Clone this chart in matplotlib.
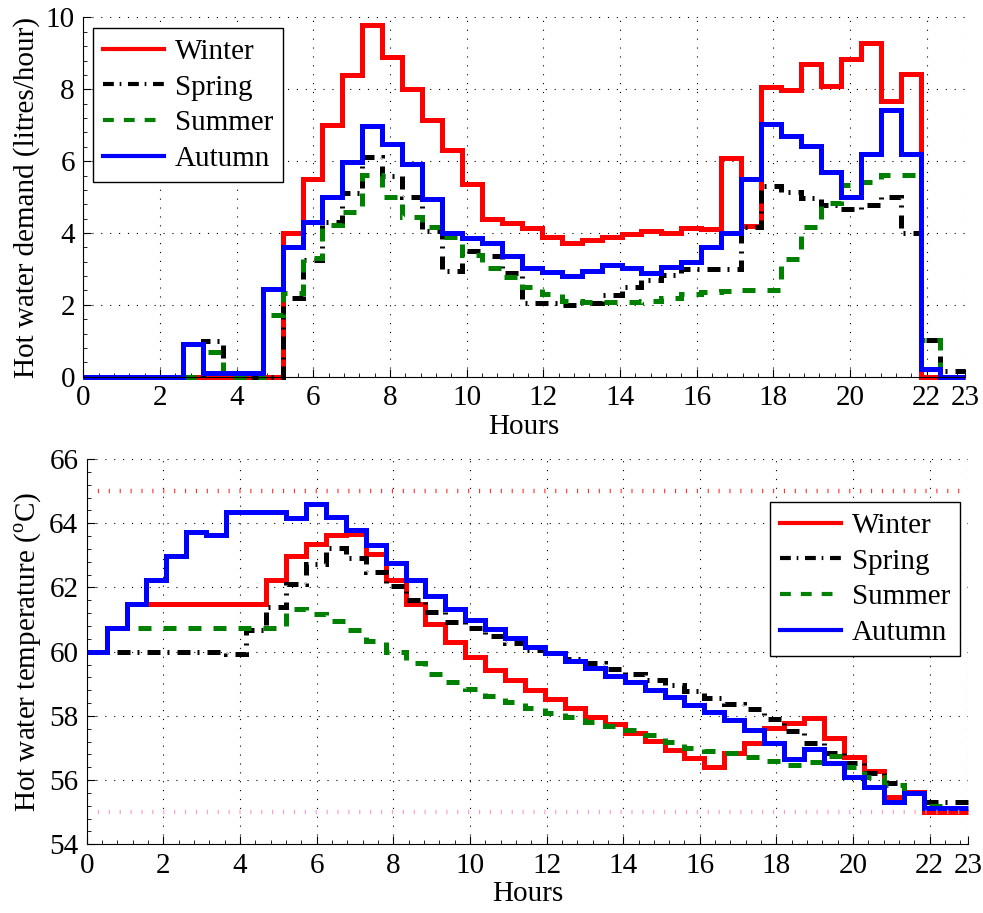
"""Hot water demand and tank temperature over a day, four seasons."""

import matplotlib
matplotlib.use("Agg")
import matplotlib.pyplot as plt
import numpy as np
from matplotlib.ticker import AutoMinorLocator

plt.rcParams["font.family"] = ["Liberation Serif", "DejaVu Serif"]
plt.rcParams["mathtext.fontset"] = "custom"
plt.rcParams["mathtext.rm"] = "Liberation Serif"

# time slots: 45 steps of 0.52 h, last one cut at 23 h
step_h = 0.52
n_steps = 45

seasons = ["Winter", "Spring", "Summer", "Autumn"]

# hot water demand (litres/hour), one value per time slot
winter_demand = [0, 0, 0, 0, 0, 0, 0, 0, 0, 0, 4.0, 5.5, 7.0, 8.4, 9.8, 8.9, 8.0, 7.15,
                 6.3, 5.35, 4.4, 4.27, 4.13, 3.9, 3.71, 3.8, 3.9, 3.96, 4.05, 4.01, 4.15,
                 4.1, 6.1, 4.2, 8.05, 7.98, 8.7, 8.1, 8.85, 9.3, 7.68, 8.42, 0, 0, 0]
spring_demand = [0, 0, 0, 0, 0, 0, 1.0, 0.1, 0, 0, 2.2, 3.25, 4.31, 5.1, 6.12, 5.6, 5.0,
                 4.05, 2.95, 3.5, 3.35, 2.9, 2.06, 2.04, 2.0, 2.05, 2.27, 2.5, 2.69, 2.83,
                 2.99, 3.0, 3.0, 4.17, 5.31, 5.15, 4.97, 4.78, 4.66, 4.77, 5.01, 4.01, 1.02,
                 0.15, 0.15]
summer_demand = [0, 0, 0, 0, 0, 0, 0.7, 0, 0, 1.72, 2.32, 3.3, 4.22, 4.59, 5.61, 4.99,
                 4.45, 4.16, 3.9, 3.4, 3.03, 2.78, 2.5, 2.3, 2.11, 2.09, 2.09, 2.09, 2.11,
                 2.2, 2.29, 2.35, 2.38, 2.4, 2.4, 3.29, 4.18, 4.84, 5.33, 5.43, 5.62, 5.62,
                 1.02, 0, 0]
autumn_demand = [0, 0, 0, 0, 0, 0.9, 0.1, 0.1, 0.1, 2.43, 3.62, 4.31, 5.01, 5.98, 6.98,
                 6.47, 5.91, 4.95, 3.99, 3.85, 3.71, 3.36, 3.02, 2.92, 2.8, 2.95, 3.11,
                 3.02, 2.9, 3.06, 3.2, 3.6, 4.01, 5.5, 7.02, 6.7, 6.42, 5.69, 5.0, 6.2,
                 7.42, 6.2, 0.22, 0, 0]

# hot water temperature (deg C), one value per time slot
winter_temp = [60.0, 60.73, 61.49, 61.49, 61.49, 61.49, 61.49, 61.49, 61.49, 62.23, 62.97,
               63.35, 63.62, 63.68, 63.05, 62.23, 61.5, 60.87, 60.3, 59.82, 59.43, 59.12,
               58.82, 58.52, 58.24, 57.98, 57.74, 57.48, 57.22, 56.94, 56.68, 56.4, 56.86,
               57.17, 57.61, 57.77, 57.93, 57.3, 56.71, 56.27, 55.47, 55.64, 55.0, 55.0,
               55.0]
spring_temp = [60.0, 60.0, 60.0, 60.0, 60.0, 60.0, 60.0, 59.93, 60.68, 61.4, 62.1, 62.72,
               63.22, 62.91, 62.49, 62.05, 61.61, 61.25, 60.94, 60.73, 60.5, 60.26, 60.05,
               59.95, 59.76, 59.64, 59.45, 59.3, 59.12, 58.95, 58.79, 58.55, 58.36, 58.2,
               57.89, 57.53, 57.17, 56.86, 56.52, 56.23, 55.92, 55.59, 55.33, 55.33, 55.33]
summer_temp = [60.0, 60.73, 60.73, 60.73, 60.73, 60.73, 60.73, 60.73, 60.73, 60.73, 61.33,
               61.17, 60.96, 60.68, 60.34, 60.0, 59.65, 59.3, 59.07, 58.84, 58.62, 58.43,
               58.26, 58.08, 57.96, 57.82, 57.69, 57.56, 57.4, 57.2, 57.0, 56.9, 56.85,
               56.72, 56.6, 56.47, 56.55, 56.75, 56.42, 56.11, 55.85, 55.6, 55.2, 55.12,
               55.12]
autumn_temp = [60.0, 60.73, 61.49, 62.23, 62.98, 63.73, 63.63, 64.36, 64.35, 64.34, 64.15,
               64.6, 64.2, 63.8, 63.31, 62.76, 62.22, 61.72, 61.34, 61.0, 60.72, 60.42,
               60.16, 59.95, 59.72, 59.48, 59.25, 59.05, 58.81, 58.58, 58.34, 58.13, 57.88,
               57.55, 57.17, 56.65, 56.96, 56.52, 56.11, 55.8, 55.33, 55.61, 55.12, 55.12,
               55.12]

temp_max = 65
temp_min = 55

xticks = [0, 2, 4, 6, 8, 10, 12, 14, 16, 18, 20, 22, 23]
edges = np.append(np.arange(n_steps) * step_h, 23)

styles = {
    "Winter": dict(color="#ff0000", linestyle="-"),
    "Spring": dict(color="black", linestyle=(0, (2.6, 1.4, 0.4, 1.6))),
    "Summer": dict(color="#008000", linestyle=(0, (2.6, 2.4))),
    "Autumn": dict(color="#0000ff", linestyle="-"),
}

fig = plt.figure(figsize=(9.83, 9.13), dpi=100)
ax1 = fig.add_axes([0.0847, 0.5874, 0.897, 0.3935])
ax2 = fig.add_axes([0.0882, 0.0752, 0.8966, 0.422])

for name, vals in zip(seasons, [winter_demand, spring_demand, summer_demand, autumn_demand]):
    ax1.stairs(vals, edges, baseline=None, linewidth=3.6, label=name, clip_on=False,
               **styles[name])
for name, vals in zip(seasons, [winter_temp, spring_temp, summer_temp, autumn_temp]):
    ax2.stairs(vals, edges, baseline=None, linewidth=3.6, label=name, clip_on=False,
               **styles[name])

# limit lines, drawn as short upright ticks like the original
ax2.axhline(temp_max, color="#ff3030", linestyle=(0, (0.25, 2.2)), linewidth=3.2)
ax2.axhline(temp_min, color="#ff99cc", linestyle=(0, (0.25, 2.2)), linewidth=3.2)

fs = 21
for ax in (ax1, ax2):
    ax.set_xlim(0, 23)
    ax.set_xticks(xticks)
    ax.grid(True, color="black", linestyle=(0, (1, 7)), linewidth=0.8)
    ax.set_axisbelow(True)
    ax.spines["top"].set_visible(False)
    ax.spines["right"].set_visible(False)
    ax.tick_params(direction="in", length=6, width=0.8, labelsize=fs, pad=6)
    ax.tick_params(which="minor", direction="in", length=3, width=0.6)
    ax.xaxis.set_minor_locator(AutoMinorLocator(5))
    ax.yaxis.set_minor_locator(AutoMinorLocator(5))
    ax.set_xlabel("Hours", fontsize=fs, labelpad=2)

ax1.set_ylim(0, 10)
ax1.set_yticks([0, 2, 4, 6, 8, 10])
ax1.set_ylabel("Hot water demand (litres/hour)", fontsize=fs, labelpad=4)

ax2.set_ylim(54, 66)
ax2.set_yticks([54, 56, 58, 60, 62, 64, 66])
ax2.set_ylabel(r"Hot water temperature ($^{\mathrm{o}}$C)", fontsize=fs, labelpad=4)

leg_kw = dict(fontsize=21, frameon=True, fancybox=False, framealpha=1, edgecolor="black",
              handlelength=2.1, labelspacing=0.32, borderpad=0.35, handletextpad=0.35,
              borderaxespad=0)
leg1 = ax1.legend(loc="upper left", bbox_to_anchor=(0.011, 0.97), **leg_kw)
leg2 = ax2.legend(loc="upper right", bbox_to_anchor=(0.991, 0.888), **leg_kw)
for leg in (leg1, leg2):
    leg.get_frame().set_linewidth(1.0)
    for line in leg.get_lines():
        line.set_linewidth(3.0)

fig.savefig("out.png", dpi=100)
